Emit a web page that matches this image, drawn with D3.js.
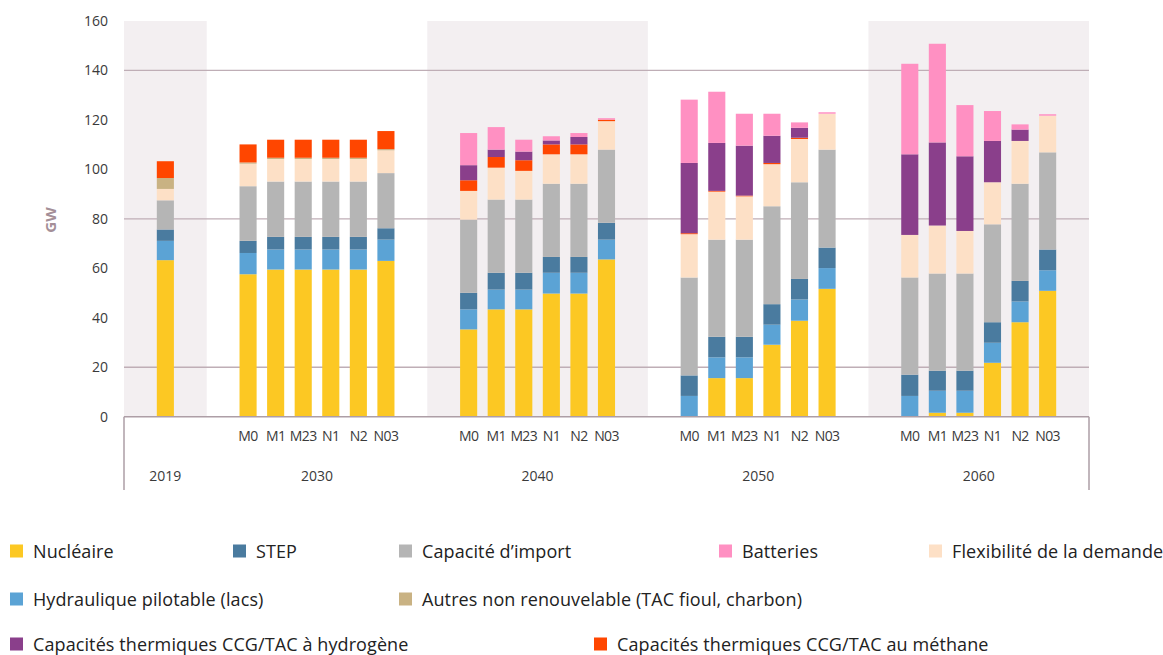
<!DOCTYPE html>
<html>
<head>
<meta charset="utf-8">
<script src="https://cdn.jsdelivr.net/npm/d3@7"></script>
<style>
  html, body { margin: 0; padding: 0; background: #ffffff; }
  svg { display: block; }
</style>
</head>
<body>
<svg id="chart" width="1163" height="655"></svg>
<script>
// Capacités pilotables par scénario (GW)
const years = ["2019", "2030", "2040", "2050", "2060"];
const scenarios = ["M0", "M1", "M23", "N1", "N2", "N03"];
const shadedYears = ["2019", "2040", "2060"];

// one entry per bar: 2019, then 6 scenarios for each future year
const barYears = ["2019"].concat(
  ...["2030", "2040", "2050", "2060"].map(y => scenarios.map(() => y)));
const barScenarios = [""].concat(
  ...["2030", "2040", "2050", "2060"].map(() => scenarios));

const nucleaire   = [63.3, 57.6, 59.5, 59.5, 59.5, 59.5, 63.0, 35.3, 43.4, 43.4, 49.8, 49.8, 63.6, 0, 15.6, 15.6, 29.1, 38.8, 51.7, 0, 1.6, 1.6, 21.8, 38.2, 50.9];
const hydraulique = [7.8, 8.6, 8.1, 8.1, 8.1, 8.1, 8.6, 8.1, 8.0, 8.0, 8.4, 8.4, 8.0, 8.4, 8.4, 8.4, 8.1, 8.6, 8.4, 8.4, 8.9, 8.9, 8.1, 8.4, 8.3];
const step        = [4.6, 4.9, 5.1, 5.1, 5.1, 5.1, 4.6, 6.7, 6.8, 6.8, 6.4, 6.4, 6.8, 8.3, 8.3, 8.3, 8.3, 8.3, 8.3, 8.6, 8.1, 8.1, 8.3, 8.3, 8.4];
const importCap   = [11.8, 22.1, 22.4, 22.4, 22.4, 22.4, 22.3, 29.6, 29.6, 29.6, 29.6, 29.6, 29.6, 39.6, 39.3, 39.3, 39.6, 39.1, 39.6, 39.3, 39.3, 39.3, 39.6, 39.3, 39.3];
const flexibilite = [4.6, 9.1, 9.1, 9.1, 9.1, 9.1, 9.2, 11.6, 12.9, 11.6, 11.9, 11.9, 11.5, 17.5, 19.4, 17.5, 17.0, 17.5, 14.5, 17.2, 19.4, 17.2, 17.0, 17.3, 14.8];
const autres      = [4.4, 0.5, 0.5, 0.5, 0.5, 0.5, 0.5, 0, 0, 0, 0, 0, 0, 0, 0, 0, 0, 0, 0, 0, 0, 0, 0, 0, 0];
const methane     = [6.8, 7.3, 7.3, 7.3, 7.3, 7.3, 7.3, 4.3, 4.3, 4.3, 4.0, 4.0, 0.6, 0.4, 0.3, 0.3, 0.5, 0.5, 0, 0, 0, 0, 0, 0, 0];
const hydrogene   = [0, 0, 0, 0, 0, 0, 0, 6.1, 3.0, 3.5, 1.6, 3.0, 0, 28.4, 19.4, 20.2, 11.0, 4.0, 0, 32.6, 33.6, 30.2, 16.7, 4.6, 0];
const batteries   = [0, 0, 0, 0, 0, 0, 0, 13.0, 9.1, 4.8, 1.7, 1.6, 0.6, 25.6, 20.7, 12.9, 8.9, 2.2, 0.6, 36.6, 39.9, 20.7, 12.1, 2.1, 0.6];

const yTicks = [0, 20, 40, 60, 80, 100, 120, 140, 160];
const gridValues = [20, 80, 140];

// stacking order, bottom to top
const series = [
  { key: "nuc",  label: "Nucléaire", values: nucleaire, color: "#fcc823" },
  { key: "hyd",  label: "Hydraulique pilotable (lacs)", values: hydraulique, color: "#5ba3d5" },
  { key: "step", label: "STEP", values: step, color: "#4a7b9f" },
  { key: "imp",  label: "Capacité d’import", values: importCap, color: "#b5b5b5" },
  { key: "flex", label: "Flexibilité de la demande", values: flexibilite, color: "#fde0c6" },
  { key: "aut",  label: "Autres non renouvelable (TAC fioul, charbon)", values: autres, color: "#c9b283" },
  { key: "ch4",  label: "Capacités thermiques CCG/TAC au méthane", values: methane, color: "#ff4600" },
  { key: "h2",   label: "Capacités thermiques CCG/TAC à hydrogène", values: hydrogene, color: "#8a3f8b" },
  { key: "bat",  label: "Batteries", values: batteries, color: "#ff90c2" }
];

// legend layout: [series key, x, y]
const legendLayout = [
  ["nuc", 10, 551], ["step", 233, 551], ["imp", 399, 551], ["bat", 719, 551], ["flex", 929, 551],
  ["hyd", 10, 599], ["aut", 399, 599],
  ["h2", 10, 644], ["ch4", 594, 644]
];

const svg = d3.select("#chart");
const fontTick = "'Open Sans', 'DejaVu Sans', sans-serif";
const fontLegend = "'Open Sans', 'DejaVu Sans', sans-serif";

const plotLeft = 124, plotRight = 1089, plotTop = 21, plotBottom = 416.7;

// x slots: one padding slot on each side of every year group
const slotKeys = [];
years.forEach(y => {
  slotKeys.push(y + "|pre");
  if (y === "2019") slotKeys.push("2019|");
  else scenarios.forEach(s => slotKeys.push(y + "|" + s));
  slotKeys.push(y + "|post");
});

const x = d3.scaleBand().domain(slotKeys).range([plotLeft, plotRight]).padding(0);
const y = d3.scaleLinear().domain([0, 160]).range([plotBottom, plotTop]);
const bw = x.bandwidth();
const barW = bw * 0.62;

// shaded year bands
const groupExtent = yr => {
  const a = x(yr + "|pre");
  const b = x(yr + "|post") + bw;
  return [a, b];
};
svg.append("g").selectAll("rect")
  .data(shadedYears)
  .join("rect")
  .attr("x", d => groupExtent(d)[0])
  .attr("width", d => groupExtent(d)[1] - groupExtent(d)[0])
  .attr("y", plotTop)
  .attr("height", plotBottom - plotTop)
  .attr("fill", "#f3eff1");

// gridlines
svg.append("g").selectAll("line")
  .data(gridValues)
  .join("line")
  .attr("x1", plotLeft).attr("x2", plotRight)
  .attr("y1", d => y(d)).attr("y2", d => y(d))
  .attr("stroke", "#bfaeb6").attr("stroke-width", 1.3);

// stacked bars
const rows = barYears.map((yr, i) => {
  const r = { slot: yr + "|" + barScenarios[i] };
  series.forEach(s => { r[s.key] = s.values[i]; });
  return r;
});
const stack = d3.stack().keys(series.map(s => s.key));
const stacked = stack(rows);
const colorOf = Object.fromEntries(series.map(s => [s.key, s.color]));

svg.append("g").selectAll("g")
  .data(stacked)
  .join("g")
  .attr("fill", d => colorOf[d.key])
  .selectAll("rect")
  .data(d => d.filter(p => p[1] - p[0] > 0))
  .join("rect")
  .attr("x", d => x(d.data.slot) + (bw - barW) / 2)
  .attr("width", barW)
  .attr("y", d => y(d[1]))
  .attr("height", d => y(d[0]) - y(d[1]));

// baseline and category frame
const frame = svg.append("g").attr("stroke", "#ad9ea6").attr("stroke-width", 1.5);
frame.append("line").attr("x1", plotLeft).attr("x2", plotRight)
  .attr("y1", plotBottom).attr("y2", plotBottom);
frame.append("line").attr("x1", plotLeft).attr("x2", plotLeft)
  .attr("y1", plotBottom).attr("y2", 490);
frame.append("line").attr("x1", plotRight).attr("x2", plotRight)
  .attr("y1", plotBottom).attr("y2", 490);

// y axis
const yAxis = svg.append("g")
  .attr("transform", `translate(${plotLeft - 16},0)`)
  .call(d3.axisLeft(y).tickValues(yTicks).tickSize(0).tickPadding(0));
yAxis.select(".domain").remove();
yAxis.selectAll("text")
  .attr("font-family", fontTick).attr("font-size", 14).attr("fill", "#3a3a3a");

svg.append("text")
  .attr("transform", "translate(52,220) rotate(-90)")
  .attr("text-anchor", "middle")
  .attr("dominant-baseline", "middle")
  .attr("font-family", fontTick).attr("font-size", 15).attr("font-weight", 700)
  .attr("fill", "#a48f98")
  .text("GW");

// scenario labels
const scenSlots = slotKeys.filter(k => scenarios.includes(k.split("|")[1]));
const xAxis = svg.append("g")
  .attr("transform", `translate(0,${plotBottom})`)
  .call(d3.axisBottom(x).tickValues(scenSlots).tickSize(0).tickPadding(14)
    .tickFormat(k => k.split("|")[1]));
xAxis.select(".domain").remove();
xAxis.selectAll("text")
  .attr("font-family", fontTick).attr("font-size", 14).attr("fill", "#3a3a3a")
  .attr("letter-spacing", "-0.6px");

// year labels
svg.append("g").selectAll("text")
  .data(years)
  .join("text")
  .attr("x", d => (groupExtent(d)[0] + groupExtent(d)[1]) / 2)
  .attr("y", 477)
  .attr("text-anchor", "middle")
  .attr("dominant-baseline", "middle")
  .attr("font-family", fontTick).attr("font-size", 14).attr("fill", "#3a3a3a")
  .text(d => d);

// legend
const seriesByKey = Object.fromEntries(series.map(s => [s.key, s]));
const leg = svg.append("g").selectAll("g")
  .data(legendLayout)
  .join("g")
  .attr("transform", d => `translate(${d[1]},${d[2]})`);
leg.append("rect")
  .attr("x", 0).attr("y", -6.5).attr("width", 13).attr("height", 13)
  .attr("fill", d => seriesByKey[d[0]].color);
leg.append("text")
  .attr("x", 23).attr("y", 0)
  .attr("dominant-baseline", "central")
  .attr("font-family", fontLegend).attr("font-size", 18).attr("fill", "#222")
  .attr("letter-spacing", "0.1px")
  .text(d => seriesByKey[d[0]].label);
</script>
</body>
</html>
